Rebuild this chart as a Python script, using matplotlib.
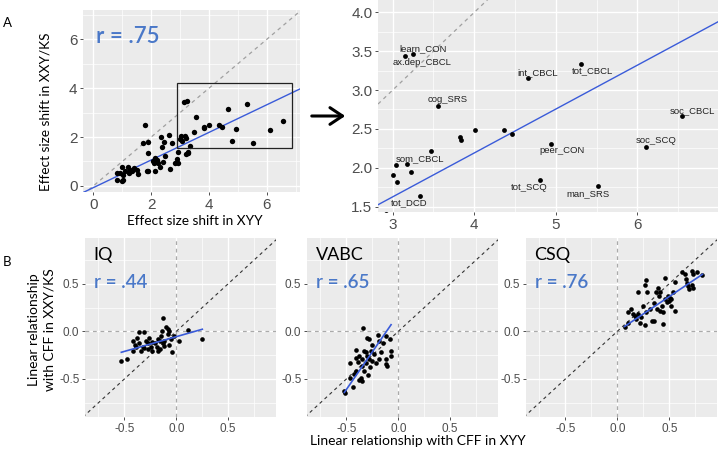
import matplotlib
matplotlib.use("Agg")
import matplotlib.pyplot as plt
from matplotlib.ticker import FixedLocator
from matplotlib.patches import Rectangle, FancyArrowPatch
import numpy as np

# ---------------- data ----------------
# Panel A: effect size shifts (XYY vs XXY/KS)
A_x = [0.81, 0.92, 0.81, 1.04, 1.00, 1.10, 1.04, 0.98, 1.21, 1.24, 1.27, 1.35, 1.42, 1.50,
       1.54, 1.85, 1.88, 2.13, 1.79, 1.73, 1.88, 1.90, 2.34, 2.46, 2.60, 2.37, 2.73, 2.13,
       2.19, 2.11, 2.25, 2.42, 2.48, 2.31, 2.65, 2.83, 2.88, 2.92, 2.92, 3.21, 3.27, 3.29,
       2.20, 2.05,
       3.15, 3.25, 4.66, 5.31, 3.55, 6.55, 6.11, 4.94, 4.01, 4.36, 4.46, 3.83, 3.84, 3.47,
       3.04, 3.17, 3.22, 3.00, 3.05, 3.34, 4.81, 5.52]
A_y = [0.52, 0.54, 0.25, 0.25, 0.18, 0.59, 0.45, 0.79, 0.79, 0.54, 0.65, 0.63, 0.72, 0.65,
       0.49, 0.59, 0.63, 0.59, 2.49, 1.75, 1.81, 1.36, 2.02, 1.81, 2.09, 1.61, 1.75, 1.13,
       0.99, 0.93, 0.93, 0.99, 1.23, 0.79, 0.70, 0.93, 1.09, 1.40, 0.93, 1.31, 1.36, 1.38,
       1.05, 1.00,
       3.44, 3.46, 3.15, 3.34, 2.80, 2.66, 2.27, 2.31, 2.48, 2.48, 2.43, 2.40, 2.36, 2.21,
       2.04, 2.05, 1.95, 1.91, 1.82, 1.64, 1.84, 1.76]
A_label = [""] * 44 + ["ax.dep_CBCL", "learn_CON", "int_CBCL", "tot_CBCL", "cog_SRS",
                       "soc_CBCL", "soc_SCQ", "peer_CON", "", "", "", "", "", "",
                       "", "som_CBCL", "", "", "", "tot_DCD", "tot_SCQ", "man_SRS"]
A_fit = (0.565, -0.07)        # slope, intercept
A_r = "r = .75"
A_box = (2.88, 1.54, 6.89, 4.20)  # zoom window x0, y0, x1, y1

# Panel B: linear relationship with CFF
IQ_x = [-0.53, -0.48, -0.42, -0.40, -0.39, -0.42, -0.36, -0.31, -0.36, -0.34, -0.32, -0.29,
        -0.27, -0.26, -0.24, -0.23, -0.21, -0.19, -0.18, -0.16, -0.15, -0.13, -0.14, -0.12,
        -0.10, -0.08, -0.07, -0.05, -0.08, -0.04, -0.07, 0.03, 0.11, 0.25, -0.18, -0.27,
        -0.31, -0.38, -0.23, -0.13, -0.16, -0.12, -0.02]
IQ_y = [-0.31, -0.29, -0.10, -0.14, -0.17, -0.21, -0.01, -0.01, -0.12, -0.21, -0.16, -0.10,
        -0.19, -0.07, -0.16, -0.21, -0.12, -0.17, -0.08, -0.19, -0.05, 0.14, 0.00, -0.10,
        0.05, -0.03, -0.14, -0.08, 0.02, -0.22, 0.00, -0.10, 0.01, -0.08, -0.21, -0.12,
        -0.18, -0.07, -0.11, -0.12, -0.10, -0.15, -0.05]
IQ_fit = (0.31, -0.056)

VABC_x = [-0.34, -0.30, -0.28, -0.20, -0.12, -0.15, -0.08, -0.25, -0.19, -0.07, -0.41, -0.33,
          -0.31, -0.26, -0.23, -0.30, -0.38, -0.41, -0.35, -0.28, -0.25, -0.19, -0.12, -0.22,
          -0.31, -0.39, -0.47, -0.12, -0.11, -0.35, -0.27, -0.41, -0.33, -0.43, -0.29, -0.47,
          -0.38, -0.35, -0.36, -0.44, -0.52, -0.51, -0.17, -0.07]
VABC_y = [0.03, -0.07, -0.08, -0.04, -0.05, -0.12, -0.08, -0.14, -0.10, -0.21, -0.20, -0.21,
          -0.22, -0.21, -0.24, -0.26, -0.26, -0.28, -0.29, -0.29, -0.31, -0.29, -0.29, -0.33,
          -0.33, -0.32, -0.33, -0.34, -0.36, -0.36, -0.38, -0.42, -0.42, -0.45, -0.46, -0.49,
          -0.51, -0.52, -0.49, -0.59, -0.63, -0.65, -0.22, -0.26]
VABC_fit = (1.58, 0.18)

CSQ_x = [0.07, 0.10, 0.10, 0.13, 0.15, 0.17, 0.20, 0.18, 0.22, 0.23, 0.27, 0.28, 0.31, 0.33,
         0.35, 0.38, 0.41, 0.43, 0.44, 0.20, 0.27, 0.28, 0.29, 0.37, 0.39, 0.41, 0.46, 0.48,
         0.49, 0.51, 0.50, 0.52, 0.52, 0.54, 0.56, 0.56, 0.62, 0.65, 0.66, 0.67, 0.68, 0.69,
         0.72, 0.73, 0.72, 0.73, 0.77, 0.82, 0.46, 0.40, 0.35, 0.25, 0.44]
CSQ_y = [0.05, 0.09, 0.20, 0.23, 0.18, 0.16, 0.18, 0.13, 0.09, 0.15, 0.07, 0.20, 0.23, 0.11,
         0.11, 0.23, 0.21, 0.27, 0.08, 0.41, 0.49, 0.54, 0.41, 0.41, 0.46, 0.41, 0.56, 0.31,
         0.37, 0.35, 0.32, 0.34, 0.27, 0.41, 0.52, 0.21, 0.62, 0.60, 0.55, 0.51, 0.48, 0.44,
         0.63, 0.60, 0.49, 0.46, 0.62, 0.59, 0.34, 0.37, 0.30, 0.27, 0.20]
CSQ_fit = (0.73, 0.0)

B_titles = ["IQ", "VABC", "CSQ"]
B_r = ["r = .44", "r = .65", "r = .76"]

# ---------------- style ----------------
W, H = 720, 454
BG = "#EBEBEB"
BLUE_LINE = "#3A5BD9"
BLUE_TXT = "#4A78C8"
TICK_C = "#4D4D4D"
TITLE_FONT = ["Lato", "DejaVu Sans"]
TICK_FONT = ["Liberation Sans", "DejaVu Sans"]

fig = plt.figure(figsize=(W / 100, H / 100), dpi=100)
fig.patch.set_facecolor("white")


def rect(l, r, t, b):
    return [l / W, 1 - b / H, (r - l) / W, (b - t) / H]


def gg(ax, xmaj, xmin, ymaj, ymin, xl, yl, fs=8):
    ax.set_facecolor(BG)
    ax.set_xlim(*xl)
    ax.set_ylim(*yl)
    ax.xaxis.set_major_locator(FixedLocator(xmaj))
    ax.yaxis.set_major_locator(FixedLocator(ymaj))
    ax.xaxis.set_minor_locator(FixedLocator(xmin))
    ax.yaxis.set_minor_locator(FixedLocator(ymin))
    ax.grid(which="major", color="white", lw=1.0)
    ax.grid(which="minor", color="white", lw=0.5)
    ax.set_axisbelow(True)
    for s in ax.spines.values():
        s.set_visible(False)
    ax.tick_params(which="major", length=2.5, width=0.6, color="#333333",
                   labelcolor=TICK_C, labelsize=fs, pad=1.5)
    ax.tick_params(which="minor", length=0)
    for lab in ax.get_xticklabels() + ax.get_yticklabels():
        lab.set_family(TICK_FONT)


# ---------- Panel A left ----------
axA = fig.add_axes(rect(83, 300, 10, 192))
gg(axA, [0, 2, 4, 6], [1, 3, 5, 7], [0, 2, 4, 6], [1, 3, 5, 7],
   (-0.36, 7.15), (-0.25, 7.2), fs=11)
axA.set_xticklabels(["0", "2", "4", "6"])
axA.set_yticklabels(["0", "2", "4", "6"])
xx = np.array(axA.get_xlim())
axA.plot(xx, xx, ls=(0, (3, 3)), color="#A0A0A0", lw=0.9)
axA.plot(xx, A_fit[0] * xx + A_fit[1], color=BLUE_LINE, lw=1.0)
axA.scatter(A_x, A_y, s=15, color="black", zorder=3, linewidths=0)
axA.add_patch(Rectangle((A_box[0], A_box[1]), A_box[2] - A_box[0], A_box[3] - A_box[1],
                        fill=False, edgecolor="#222222", lw=0.9, zorder=4))
axA.text(0.062, 0.855, A_r, transform=axA.transAxes, color=BLUE_TXT, fontsize=16,
         family=TITLE_FONT, va="center", ha="left", weight="semibold")
fig.text(195 / W, 1 - 221 / H, "Effect size shift in XYY", ha="center", va="center",
         fontsize=9.8, family=TITLE_FONT)
fig.text(46 / W, 1 - 112 / H, "Effect size shift in XXY/KS", ha="center", va="center",
         rotation=90, fontsize=9.8, family=TITLE_FONT)
fig.text(7 / W, 1 - 23 / H, "A", ha="center", va="center", fontsize=9.5, family=TITLE_FONT)

# arrow
fig.add_artist(FancyArrowPatch((309 / W, 1 - 116 / H), (348 / W, 1 - 116 / H),
                               transform=fig.transFigure, arrowstyle="->,head_length=6,head_width=4",
                               color="black", lw=2.2, mutation_scale=1.5))

# ---------- Panel A right (zoom) ----------
axZ = fig.add_axes(rect(378, 718, 0, 212))
gg(axZ, [3, 4, 5, 6], [3.5, 4.5, 5.5, 6.5],
   [1.5, 2.0, 2.5, 3.0, 3.5, 4.0], [1.75, 2.25, 2.75, 3.25, 3.75],
   (2.82, 6.99), (1.43, 4.16), fs=11)
axZ.set_xticklabels(["3", "4", "5", "6"])
axZ.set_yticklabels(["1.5", "2.0", "2.5", "3.0", "3.5", "4.0"])
xz = np.array(axZ.get_xlim())
axZ.plot(xz, xz, ls=(0, (3, 3)), color="#A0A0A0", lw=0.9)
axZ.plot(xz, A_fit[0] * xz + A_fit[1], color=BLUE_LINE, lw=1.0)
axZ.scatter(A_x, A_y, s=12, color="black", zorder=3, linewidths=0)
label_offsets = {
    "learn_CON": (10, 6), "ax.dep_CBCL": (17, -7), "int_CBCL": (10, 6),
    "tot_CBCL": (11, -7), "cog_SRS": (10, 6), "soc_CBCL": (10, 6), "soc_SCQ": (10, 6),
    "peer_CON": (11, -7), "som_CBCL": (13, 5), "tot_SCQ": (-11, -7), "man_SRS": (-10, -7),
    "tot_DCD": (-11, -7),
}
for x, y, lab in zip(A_x, A_y, A_label):
    if lab:
        dx, dy = label_offsets[lab]
        axZ.annotate(lab, (x, y), xytext=(dx, dy), textcoords="offset pixels",
                     ha="center", va="center", fontsize=6.8, color="#222222",
                     family=TICK_FONT)

# ---------- Panel B ----------
B_data = [(IQ_x, IQ_y, IQ_fit), (VABC_x, VABC_y, VABC_fit), (CSQ_x, CSQ_y, CSQ_fit)]
B_lefts = [85, 307, 526]
for i, ((bx, by, fit), l) in enumerate(zip(B_data, B_lefts)):
    ax = fig.add_axes(rect(l, l + 191, 238, 417))
    gg(ax, [-0.5, 0.0, 0.5], [-0.75, -0.25, 0.25, 0.75],
       [-0.5, 0.0, 0.5], [-0.75, -0.25, 0.25, 0.75],
       (-0.88, 0.96), (-0.9, 0.98), fs=8.5)
    ax.set_xticklabels(["-0.5", "0.0", "0.5"])
    ax.set_yticklabels(["-0.5", "0.0", "0.5"])
    ax.axhline(0, color="#AAAAAA", ls=(0, (3, 3)), lw=0.9, zorder=1)
    ax.axvline(0, color="#AAAAAA", ls=(0, (3, 3)), lw=0.9, zorder=1)
    lim = np.array([-0.9, 0.98])
    ax.plot(lim, lim, color="#333333", ls=(0, (3, 3)), lw=0.8, zorder=2)
    bxa = np.array(bx)
    fx = np.array([bxa.min(), bxa.max()])
    ax.scatter(bx, by, s=11, color="black", zorder=3, linewidths=0)
    ax.plot(fx, fit[0] * fx + fit[1], color=BLUE_LINE, lw=1.2, zorder=4)
    ax.text(0.045, 0.905, B_titles[i], transform=ax.transAxes, fontsize=13,
            family=TITLE_FONT, va="center", ha="left", color="black")
    ax.text(0.045, 0.75, B_r[i], transform=ax.transAxes, fontsize=13.5,
            family=TITLE_FONT, va="center", ha="left", color=BLUE_TXT, weight="semibold")

fig.text(418 / W, 1 - 441 / H, "Linear relationship with CFF in XYY", ha="center",
         va="center", fontsize=10, family=TITLE_FONT)
fig.text(42 / W, 1 - 330 / H, "Linear relationship\nwith CFF in XXY/KS", ha="center",
         va="center", rotation=90, fontsize=10, family=TITLE_FONT, linespacing=1.3)
fig.text(7 / W, 1 - 262 / H, "B", ha="center", va="center", fontsize=9.5, family=TITLE_FONT)

fig.savefig("out.png", dpi=100, facecolor="white")
